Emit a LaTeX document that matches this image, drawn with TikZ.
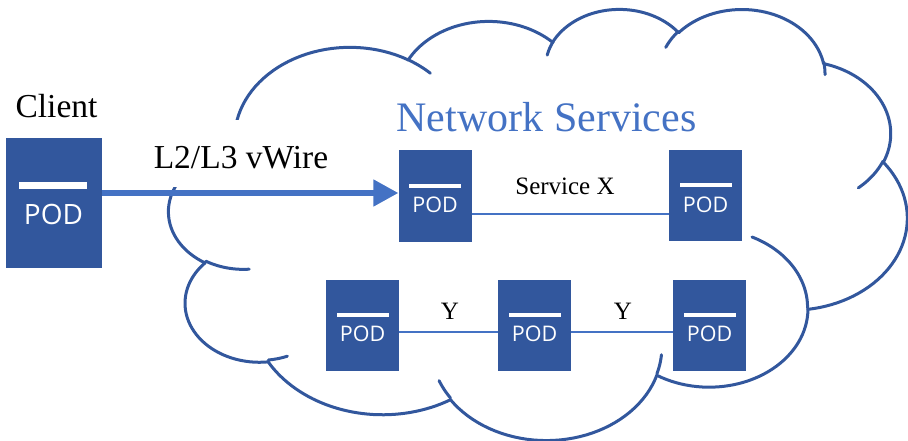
\documentclass[tikz,border=0pt]{standalone}
\usepackage{fontspec}
\setmainfont{Liberation Serif}
\newfontfamily\podfont{Open Sans}
\usetikzlibrary{arrows.meta}
\definecolor{podblue}{RGB}{50,87,157}
\definecolor{cloudblue}{RGB}{50,87,157}
\definecolor{lightblue}{RGB}{68,114,196}

\newcommand\ooMove[2]{\pgfmathsetmacro\curX{#1}\pgfmathsetmacro\curY{#2}}
\newcommand\ooArc[4]{%
  \pgfmathsetmacro\tS{atan2((#1)*sin(#3),(#2)*cos(#3))}%
  \pgfmathsetmacro\tE{atan2((#1)*sin((#3)+(#4)),(#2)*cos((#3)+(#4)))}%
  \pgfmathsetmacro\dT{\tE-(\tS)}%
  \pgfmathsetmacro\dT{ifthenelse(#4>0, ifthenelse(\dT<0,\dT+360,\dT), ifthenelse(\dT>0,\dT-360,\dT))}%
  \pgfmathsetmacro\cX{\curX-(#1)*cos(\tS)}%
  \pgfmathsetmacro\cY{\curY-(#2)*sin(\tS)}%
  \pgfmathsetmacro\tF{\tS+(\dT)}%
  \draw[cloudline] plot[domain=\tS:\tF, samples=40] ({\cX+(#1)*cos(\x)},{\cY+(#2)*sin(\x)});%
  \pgfmathsetmacro\curX{\cX+(#1)*cos(\tF)}%
  \pgfmathsetmacro\curY{\cY+(#2)*sin(\tF)}%
}

\tikzset{
  cloudline/.style={draw=cloudblue, line width=3pt, line cap=round, line join=round},
  podbox/.style={rectangle, fill=podblue, draw=none, minimum width=73pt, minimum height=91pt, inner sep=0pt},
  podtext/.style={font=\podfont\fontsize{21.5}{22}\selectfont, text=white, inner sep=0pt},
  conn/.style={draw=lightblue, line width=2pt},
  arrowline/.style={draw=lightblue, line width=5pt, -{Triangle[length=25pt,width=26pt]}},
  serif/.style={inner sep=0pt, text=black},
  pod/.pic={
    \node[podbox] (-box) at (0,0) {};
    \fill[white] (-26,-12) rectangle (26,-8);
    \node[podtext] (-txt) at (0,9) {POD};
  }
}

\begin{document}
\begin{tikzpicture}[x=1pt,y=-1pt]
\useasboundingbox (0,0) rectangle (908,441);

% cloud (PowerPoint cloud geometry)
\begin{scope}[shift={(169,8)},xscale=1.7083,yscale=0.9977]
  \ooMove{39.00}{143.70}
  \ooArc{67.53}{91.90}{-190.48748}{123.78053}
  \ooArc{53.33}{72.67}{-144.10238}{89.94523}
  \ooArc{43.65}{59.45}{-145.80792}{99.72302}
  \ooArc{48.57}{65.95}{-130.98607}{117.24173}
  \ooArc{53.33}{72.73}{-78.70888}{109.02692}
  \ooArc{67.75}{92.20}{-46.26725}{130.26900}
  \ooArc{57.85}{78.67}{0.62502}{114.03333}
  \ooArc{67.52}{92.15}{22.45160}{115.17255}
  \ooArc{77.20}{105.43}{66.24263}{75.71102}
  \ooArc{43.60}{59.18}{-274.94208}{146.73557}
  \ooArc{43.45}{59.45}{-246.82850}{152.51885}
  % creases
  \ooMove{46.93}{261.77}\ooArc{43.45}{59.45}{86.74200}{26.42950}
  \ooMove{69.28}{348.99}\ooArc{43.60}{59.18}{73.61047}{11.44747}
  \ooMove{164.78}{390.90}\ooArc{67.52}{92.15}{137.62415}{14.08110}
  \ooMove{288.27}{347.51}\ooArc{67.52}{92.15}{6.45327}{15.99835}
  \ooMove{341.29}{229.54}\ooArc{57.85}{78.67}{-70.29235}{70.91737}
  \ooMove{417.98}{153.54}\ooArc{53.33}{72.73}{30.31803}{27.75150}
  \ooMove{383.24}{54.26}\ooArc{48.57}{65.95}{-13.74433}{14.85890}
  \ooMove{290.78}{39.52}\ooArc{48.57}{65.95}{-149.18145}{18.19537}
  \ooMove{221.41}{47.20}\ooArc{43.65}{59.45}{-163.49427}{17.68635}
  \ooMove{140.00}{51.92}\ooArc{67.53}{91.90}{-66.70695}{12.31935}
  \ooMove{41.27}{157.89}\ooArc{67.53}{91.90}{157.65435}{11.85817}
\end{scope}

% labels
\node[serif, anchor=base, font=\fontsize{33.5}{36}\selectfont] (clientlbl) at (56.5,118) {Client};
\node[serif, anchor=base, fill=white, font=\fontsize{33.5}{36}\selectfont,
      text height=49pt, text depth=18pt, inner ysep=0pt, inner xsep=12pt] (wire) at (241,169) {L2/L3 vWire};
\node[serif, anchor=base, text=lightblue, font=\fontsize{42}{44}\selectfont] (netsvc) at (546.5,132) {Network Services};

% client POD
\node[rectangle, fill=podblue, minimum width=96pt, minimum height=130pt, inner sep=0pt] (client) at (54,203) {};
\fill[white] (19,182) rectangle (87,189);
\node[podtext, font=\podfont\fontsize{28}{30}\selectfont] (clienttxt) at (53.5,214) {POD};

% service PODs
\pic (p1) at (435,196) {pod};
\pic (p2) at (705.5,195.5) {pod};
\pic (p3) at (362.5,325) {pod};
\pic (p4) at (534.5,325) {pod};
\pic (p5) at (709.5,325) {pod};

% connectors
\draw[arrowline] (client.east |- 0,193) -- (p1-box.west |- 0,193);
\draw[conn] (p1-box.east |- 0,214) -- (p2-box.west |- 0,214);
\draw[conn] (p3-box.east |- 0,332) -- (p4-box.west |- 0,332);
\draw[conn] (p4-box.east |- 0,332) -- (p5-box.west |- 0,332);

\node[serif, anchor=base, font=\fontsize{25}{27}\selectfont] (svcx) at (565,194) {Service X};
\node[serif, anchor=base, font=\fontsize{25}{27}\selectfont] (y1) at (450,319) {Y};
\node[serif, anchor=base, font=\fontsize{25}{27}\selectfont] (y2) at (623,319) {Y};
\end{tikzpicture}
\end{document}
